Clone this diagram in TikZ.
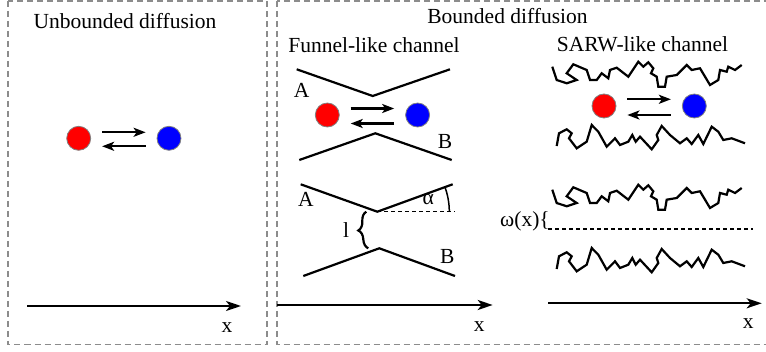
\documentclass[tikz,border=0pt]{standalone}
\usepackage{fontspec}
\setmainfont{Liberation Serif}
\usetikzlibrary{arrows.meta, positioning, decorations.pathreplacing}
\definecolor{panelgray}{RGB}{140,140,140}
\tikzset{
  panel/.style={draw=panelgray, line width=1.2pt, dash pattern=on 6pt off 4pt},
  redball/.style={circle, fill=red, draw=gray, line width=0.8pt,
    minimum size=24pt, inner sep=0pt},
  blueball/.style={circle, fill=blue, draw=gray, line width=0.8pt,
    minimum size=24pt, inner sep=0pt},
  arr/.style={-{Stealth[length=12pt, width=9pt, inset=3pt]}, line width=2.2pt,
    shorten <=11pt, shorten >=11pt},
  axis/.style={-{Stealth[length=15pt, width=10pt, inset=4pt]}, line width=2.2pt},
  wall/.style={line width=2.2pt, line join=miter},
  rough/.style={line width=2.2pt, line join=miter},
  guide/.style={line width=1.1pt, dash pattern=on 4pt off 3pt},
  brace/.style={decorate, decoration={brace, amplitude=9pt}, line width=2.2pt},
}

\begin{document}
\begin{tikzpicture}[x=1pt, y=-1pt, font=\fontsize{21.5}{24}\selectfont]
  \useasboundingbox (0,0) rectangle (766,352);
  \draw[panel] (8,1) rectangle (267,344.5);
  \draw[panel] (277,1) rectangle (770,344.5);

  % unbounded diffusion
  \node (utitle) at (125,21) {Unbounded diffusion};
  \node[redball] (uR) at (78.7,138.3) {};
  \node[blueball, right=65.5pt of uR] (uB) {};
  \draw[arr] ([yshift=6pt]uR.east) -- ([yshift=6pt]uB.west);
  \draw[arr] ([yshift=-8pt]uB.west) -- ([yshift=-8pt]uR.east);
  \coordinate (ua0) at (27,306); \coordinate (ua1) at (241,306);
  \draw[axis] (ua0) -- (ua1);
  \node (ux) at (227,328) {x};

  % bounded diffusion
  \node (btitle) at (507.5,16) {Bounded diffusion};
  \node (ftitle) at (374,45) {Funnel-like channel};
  \node (stitle) at (642.5,44) {SARW-like channel};

  % funnel, upper
  \coordinate (f1t) at (372.7,96); \coordinate (f1b) at (375.3,133.3);
  \draw[wall] (296.7,69.3) -- (f1t) -- (450,69.3);
  \draw[wall] (299.3,160) -- (f1b) -- (451.7,160);
  \node (fA1) at (301.7,90.7) {A};
  \node (fB1) at (445,141.7) {B};
  \node[redball] (fR) at (327.3,115) {};
  \node[blueball, right=65.5pt of fR] (fB) {};
  \draw[arr] ([yshift=6.5pt]fR.east) -- ([yshift=6.5pt]fB.west);
  \draw[arr] ([yshift=-8.5pt]fB.west) -- ([yshift=-8.5pt]fR.east);

  % funnel, lower
  \coordinate (f2t) at (377.3,211.7); \coordinate (f2b) at (379.3,248.3);
  \draw[wall] (300.7,184.3) -- (f2t) -- (452.7,184.3);
  \draw[wall] (303.3,276) -- (f2b) -- (455,276);
  \node (fA2) at (306,199.3) {A};
  \node (fB2) at (447.3,256) {B};
  \draw[guide] (f2t) -- ++(78,0);
  \draw[line width=1.5pt] ([xshift=72pt]f2t) arc[start angle=0, end angle=-20, radius=72];
  \node (alpha) at (428.3,200) {α};
  \draw[brace] ([xshift=-11pt]f2b) -- ([xshift=-11pt]f2t);
  \node (lw) at (346,230) {l};
  \coordinate (fa0) at (277.3,305); \coordinate (fa1) at (492.7,305);
  \draw[axis] (fa0) -- (fa1);
  \node (fx) at (479.3,326.7) {x};

  % SARW channel
  \node[redball] (sR) at (604,106) {};
  \node[blueball, right=65.5pt of sR] (sB) {};
  \draw[arr] ([yshift=6.7pt]sR.east) -- ([yshift=6.7pt]sB.west);
  \draw[arr] ([yshift=-9pt]sB.west) -- ([yshift=-9pt]sR.east);
  \foreach \dy in {0,123} {
    \draw[rough, shift={(0,\dy)}] (552.3,66.7) -- (556.7,80) -- (566.7,83.3) -- (576.7,80)
      -- (566.7,73.3) -- (573.3,64.3) -- (586.7,70) -- (590,80) -- (596.7,80) -- (601.7,73.3)
      -- (608.3,78.3) -- (610,70) -- (616.7,67.7) -- (628.3,76.7) -- (638.3,61.7)
      -- (643.3,66.7) -- (648.3,62.3) -- (653.3,68.3) -- (651,73.3) -- (656.7,76.7)
      -- (658.3,86.7) -- (665,86.7) -- (666.7,76.7) -- (676.7,75) -- (686.7,65) -- (691.7,70)
      -- (700,68.3) -- (710,85) -- (718.3,80) -- (720,70) -- (726.7,71.7) -- (728.3,66.7)
      -- (735,70) -- (741.7,65);
    \draw[rough, shift={(0,\dy)}] (556.7,146) -- (559,133.3) -- (566.7,129.3) -- (571.7,133.3)
      -- (569,138.3) -- (576.7,148.3) -- (586.7,141.7) -- (591.7,125) -- (598.3,131.7)
      -- (606.7,146.7) -- (615,138.3) -- (620,145) -- (628.3,141.7) -- (632.3,135)
      -- (635.7,141.7) -- (640,136.7) -- (651.7,149.3) -- (658.3,140) -- (656.7,135)
      -- (661.7,126) -- (670,135) -- (680,143.3) -- (686.7,138.3) -- (691.7,144)
      -- (698.3,135) -- (703.3,144) -- (711.7,126.7) -- (718.3,131.7) -- (723.3,140)
      -- (731.7,138.3) -- (745,143.3);
  }
  \coordinate (sm0) at (548,229); \coordinate (sm1) at (753,229);
  \draw[guide] (sm0) -- (sm1);
  \node (omega) at (525,221) {ω(x)\{};
  \coordinate (sa0) at (548.3,303.3); \coordinate (sa1) at (761.7,303.3);
  \draw[axis] (sa0) -- (sa1);
  \node (sx) at (748.3,323.3) {x};
\end{tikzpicture}
\end{document}
